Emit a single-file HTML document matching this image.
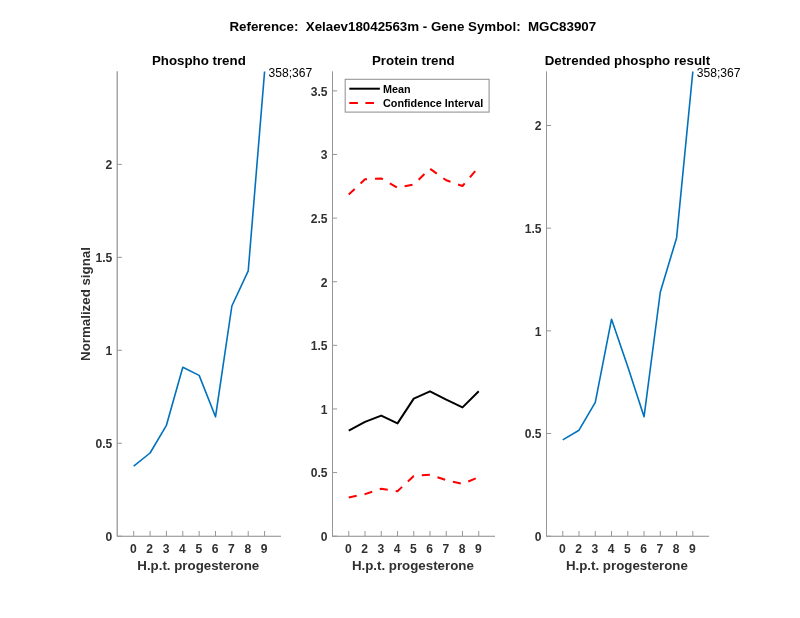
<!DOCTYPE html>
<html><head><meta charset="utf-8"><title>Figure</title>
<style>
html,body{margin:0;padding:0;background:#fff;}
svg{display:block;font-family:"Liberation Sans",Arial,Helvetica,sans-serif;}
.t{font-weight:bold;font-size:12.1px;fill:#303030;}
.ttl{font-weight:bold;font-size:13.3px;fill:#000;}
.lbl{font-weight:bold;font-size:13.3px;fill:#303030;}
.sup{font-weight:bold;font-size:13.33px;fill:#000;}
.ann{font-size:12.1px;fill:#000;}
.leg{font-weight:bold;font-size:10.8px;fill:#000;}
</style></head><body>
<svg width="800" height="618" viewBox="0 0 800 618">
<rect width="800" height="618" fill="#fff"/>
<text class="sup" x="412.8" y="31" text-anchor="middle" style="white-space:pre">Reference:  Xelaev18042563m - Gene Symbol:  MGC83907</text>

<g>
<text class="ttl" x="198.85" y="65.4" text-anchor="middle">Phospho trend</text>
<path d="M117.25 71.3V536.2" fill="none" stroke="#a6a6a6" stroke-width="1.5"/>
<path d="M116.85 536.2H280.95" fill="none" stroke="#8a8a8a" stroke-width="1.1"/>
<path d="M117.35 536.20h4.6M117.35 443.25h4.6M117.35 350.30h4.6M117.35 257.35h4.6M117.35 164.40h4.6M133.71 536.2v-5.2M150.07 536.2v-5.2M166.43 536.2v-5.2M182.79 536.2v-5.2M199.15 536.2v-5.2M215.51 536.2v-5.2M231.87 536.2v-5.2M248.23 536.2v-5.2M264.59 536.2v-5.2" fill="none" stroke="#979797" stroke-width="1"/>
<text class="t" x="112.35" y="541.00" text-anchor="end">0</text>
<text class="t" x="112.35" y="448.05" text-anchor="end">0.5</text>
<text class="t" x="112.35" y="355.10" text-anchor="end">1</text>
<text class="t" x="112.35" y="262.15" text-anchor="end">1.5</text>
<text class="t" x="112.35" y="169.20" text-anchor="end">2</text>
<text class="t" x="133.31" y="552.6" text-anchor="middle">0</text>
<text class="t" x="149.67" y="552.6" text-anchor="middle">2</text>
<text class="t" x="166.03" y="552.6" text-anchor="middle">3</text>
<text class="t" x="182.39" y="552.6" text-anchor="middle">4</text>
<text class="t" x="198.75" y="552.6" text-anchor="middle">5</text>
<text class="t" x="215.11" y="552.6" text-anchor="middle">6</text>
<text class="t" x="231.47" y="552.6" text-anchor="middle">7</text>
<text class="t" x="247.83" y="552.6" text-anchor="middle">8</text>
<text class="t" x="264.19" y="552.6" text-anchor="middle">9</text>
<text class="lbl" x="198.25" y="570" text-anchor="middle">H.p.t. progesterone</text>
</g>
<g>
<text class="ttl" x="413.35" y="65.4" text-anchor="middle">Protein trend</text>
<path d="M332.00 536.2H495.00" fill="none" stroke="#8a8a8a" stroke-width="1.1"/>
<path d="M332.50 71.3V536.2M332.50 536.20h4.6M332.50 472.58h4.6M332.50 408.96h4.6M332.50 345.34h4.6M332.50 281.72h4.6M332.50 218.10h4.6M332.50 154.48h4.6M332.50 90.86h4.6M348.75 536.2v-5.2M365.00 536.2v-5.2M381.25 536.2v-5.2M397.50 536.2v-5.2M413.75 536.2v-5.2M430.00 536.2v-5.2M446.25 536.2v-5.2M462.50 536.2v-5.2M478.75 536.2v-5.2" fill="none" stroke="#979797" stroke-width="1"/>
<text class="t" x="327.50" y="541.00" text-anchor="end">0</text>
<text class="t" x="327.50" y="477.38" text-anchor="end">0.5</text>
<text class="t" x="327.50" y="413.76" text-anchor="end">1</text>
<text class="t" x="327.50" y="350.14" text-anchor="end">1.5</text>
<text class="t" x="327.50" y="286.52" text-anchor="end">2</text>
<text class="t" x="327.50" y="222.90" text-anchor="end">2.5</text>
<text class="t" x="327.50" y="159.28" text-anchor="end">3</text>
<text class="t" x="327.50" y="95.66" text-anchor="end">3.5</text>
<text class="t" x="348.35" y="552.6" text-anchor="middle">0</text>
<text class="t" x="364.60" y="552.6" text-anchor="middle">2</text>
<text class="t" x="380.85" y="552.6" text-anchor="middle">3</text>
<text class="t" x="397.10" y="552.6" text-anchor="middle">4</text>
<text class="t" x="413.35" y="552.6" text-anchor="middle">5</text>
<text class="t" x="429.60" y="552.6" text-anchor="middle">6</text>
<text class="t" x="445.85" y="552.6" text-anchor="middle">7</text>
<text class="t" x="462.10" y="552.6" text-anchor="middle">8</text>
<text class="t" x="478.35" y="552.6" text-anchor="middle">9</text>
<text class="lbl" x="412.85" y="570" text-anchor="middle">H.p.t. progesterone</text>
</g>
<g>
<text class="ttl" x="627.40" y="65.4" text-anchor="middle">Detrended phospho result</text>
<path d="M546.00 536.2H709.10" fill="none" stroke="#8a8a8a" stroke-width="1.1"/>
<path d="M546.50 71.3V536.2M546.50 536.20h4.6M546.50 433.53h4.6M546.50 330.85h4.6M546.50 228.18h4.6M546.50 125.50h4.6M562.76 536.2v-5.2M579.02 536.2v-5.2M595.28 536.2v-5.2M611.54 536.2v-5.2M627.80 536.2v-5.2M644.06 536.2v-5.2M660.32 536.2v-5.2M676.58 536.2v-5.2M692.84 536.2v-5.2" fill="none" stroke="#979797" stroke-width="1"/>
<text class="t" x="541.50" y="541.00" text-anchor="end">0</text>
<text class="t" x="541.50" y="438.33" text-anchor="end">0.5</text>
<text class="t" x="541.50" y="335.65" text-anchor="end">1</text>
<text class="t" x="541.50" y="232.98" text-anchor="end">1.5</text>
<text class="t" x="541.50" y="130.30" text-anchor="end">2</text>
<text class="t" x="562.36" y="552.6" text-anchor="middle">0</text>
<text class="t" x="578.62" y="552.6" text-anchor="middle">2</text>
<text class="t" x="594.88" y="552.6" text-anchor="middle">3</text>
<text class="t" x="611.14" y="552.6" text-anchor="middle">4</text>
<text class="t" x="627.40" y="552.6" text-anchor="middle">5</text>
<text class="t" x="643.66" y="552.6" text-anchor="middle">6</text>
<text class="t" x="659.92" y="552.6" text-anchor="middle">7</text>
<text class="t" x="676.18" y="552.6" text-anchor="middle">8</text>
<text class="t" x="692.44" y="552.6" text-anchor="middle">9</text>
<text class="lbl" x="626.90" y="570" text-anchor="middle">H.p.t. progesterone</text>
</g>
<text class="lbl" transform="translate(89.8,304) rotate(-90)" text-anchor="middle">Normalized signal</text>
<polyline points="133.71,466.1 150.07,453.0 166.43,425.3 182.79,367.3 199.15,375.4 215.51,416.8 231.87,306.0 248.23,270.8 264.59,71.5" fill="none" stroke="#0072BD" stroke-width="1.6" stroke-linejoin="round"/>
<text class="ann" x="268.59" y="76.6">358;367</text>
<polyline points="562.76,439.9 579.02,430.2 595.28,402.35 611.54,319.2 627.80,366.7 644.06,416.7 660.32,292.0 676.58,237.9 692.84,71.5" fill="none" stroke="#0072BD" stroke-width="1.6" stroke-linejoin="round"/>
<text class="ann" x="696.84" y="76.6">358;367</text>
<polyline points="348.75,430.65 365.00,421.9 381.25,415.6 397.50,423.4 413.75,398.6 430.00,391.35 446.25,399.6 462.50,407.4 478.75,391.3" fill="none" stroke="#000" stroke-width="2" stroke-linejoin="round"/>
<polyline points="348.75,194.4 365.00,179.35 381.25,178.4 397.50,187.7 413.75,184.4 430.00,168.7 446.25,180.3 462.50,186.0 478.75,167" fill="none" stroke="#f00" stroke-width="2" stroke-dasharray="8.1 8.0" stroke-linejoin="round"/>
<polyline points="348.75,497.5 365.00,494.1 381.25,488.8 397.50,491.2 413.75,475.9 430.00,474.7 446.25,480.1 462.50,483.9 478.75,477.1" fill="none" stroke="#f00" stroke-width="2" stroke-dasharray="8.1 8.0" stroke-linejoin="round"/>
<rect x="345.2" y="79.3" width="143.9" height="32.8" fill="#fff" stroke="#969696" stroke-width="1.1"/>
<path d="M349.3 88.7H379.9" stroke="#000" stroke-width="2" fill="none"/>
<path d="M349.3 103.05H379.9" stroke="#f00" stroke-width="2" stroke-dasharray="8.6 7.5" fill="none"/>
<text class="leg" x="383" y="92.6">Mean</text>
<text class="leg" x="383" y="107.2">Confidence Interval</text>
</svg></body></html>
